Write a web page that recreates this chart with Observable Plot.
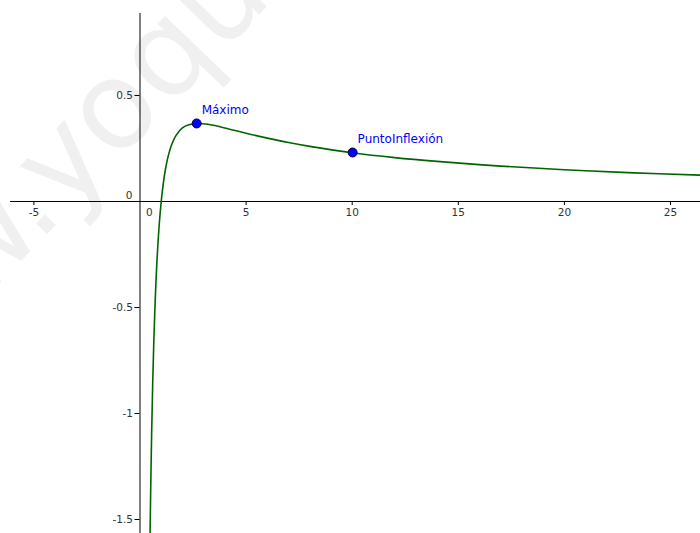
<!DOCTYPE html>
<html>
<head>
<meta charset="utf-8">
<script src="https://cdn.jsdelivr.net/npm/d3@7"></script>
<script src="https://cdn.jsdelivr.net/npm/@observablehq/plot@0.6"></script>
<style>
  html, body { margin: 0; padding: 0; background: #fff; }
  #chart svg { display: block; }
</style>
</head>
<body>
<div id="chart"></div>
<script>
// ---- data ----
const curveX = [0.475, 0.5, 0.55, 0.6, 0.65, 0.7, 0.75, 0.8, 0.9, 1, 1.1, 1.2, 1.3, 1.4, 1.5, 1.7, 2, 2.3, 2.7, 3.2, 4, 5, 6, 7, 8, 10, 12, 14, 17, 20, 23, 26.5];
const curveY = [-1.567, -1.386, -1.087, -0.851, -0.663, -0.510, -0.384, -0.279, -0.117, 0, 0.087, 0.152, 0.202, 0.240, 0.270, 0.312, 0.347, 0.362, 0.368, 0.364, 0.347, 0.322, 0.299, 0.278, 0.260, 0.230, 0.207, 0.189, 0.167, 0.150, 0.136, 0.124];

const pointNames = ["Máximo", "PuntoInflexión"];
const pointX = [2.67, 10.02];
const pointY = [0.368, 0.231];

const xTicks = [-5, 5, 10, 15, 20, 25];
const xTickLabels = ["-5", "5", "10", "15", "20", "25"];
const yTicks = [0.5, -0.5, -1, -1.5];
const yTickLabels = ["0.5", "-0.5", "-1", "-1.5"];
const watermark = ["www.yoquieroaprobar.es"];

// ---- build tables ----
const curve = curveX.map((x, i) => ({x, y: curveY[i]}));
const points = pointNames.map((name, i) => ({name, x: pointX[i], y: pointY[i]}));
const xt = xTicks.map((v, i) => ({v, label: xTickLabels[i]}));
const yt = yTicks.map((v, i) => ({v, label: yTickLabels[i]}));

const font = "DejaVu Sans, Verdana, sans-serif";
const xDomain = [-6.574, 26.414];
const yDomain = [-1.566, 0.948];

const chart = Plot.plot({
  width: 700,
  height: 533,
  margin: 0,
  style: {fontFamily: font, background: "#fff"},
  x: {domain: xDomain, axis: null},
  y: {domain: yDomain, axis: null},
  marks: [
    // watermark
    Plot.text(watermark, {
      text: d => d, frameAnchor: "top-left", dx: -225, dy: 390,
      rotate: -46, textAnchor: "start", fontSize: 122, fill: "#f0f0f0"
    }),
    // axes lines
    Plot.ruleY([0], {x1: -6.10, x2: xDomain[1], stroke: "#000", strokeWidth: 1}),
    Plot.ruleX([0], {y1: yDomain[0], y2: 0.887, stroke: "#000", strokeWidth: 1}),
    // x ticks
    Plot.ruleX(xt, {x: "v", y1: 0, y2: -0.019, stroke: "#000", strokeWidth: 1}),
    Plot.text(xt, {x: "v", y: () => 0, text: "label", dy: 11.5, fontSize: 10.5, fill: "#333"}),
    // y ticks
    Plot.ruleY(yt, {y: "v", x1: -0.236, x2: 0, stroke: "#000", strokeWidth: 1}),
    Plot.text(yt, {y: "v", x: () => 0, text: "label", dx: -7, textAnchor: "end", fontSize: 10.5, fill: "#333"}),
    // origin labels
    Plot.text(["0"], {x: () => 0, y: () => 0, text: d => d, dx: 6, dy: 11.5, textAnchor: "start", fontSize: 10.5, fill: "#333"}),
    Plot.text(["0"], {x: () => 0, y: () => 0, text: d => d, dx: -7.5, dy: -6, textAnchor: "end", fontSize: 10.5, fill: "#333"}),
    // curve
    Plot.line(curve, {x: "x", y: "y", stroke: "#006400", strokeWidth: 1.6, curve: "catmull-rom"}),
    // points
    Plot.dot(points, {x: "x", y: "y", r: 4.5, fill: "#0000ff", stroke: "#000033", strokeWidth: 1}),
    Plot.text(points, {x: "x", y: "y", text: "name", dx: 5, dy: -13, textAnchor: "start", fontSize: 12, fill: "#0000ff"})
  ]
});

document.getElementById("chart").append(chart);
</script>
</body>
</html>
